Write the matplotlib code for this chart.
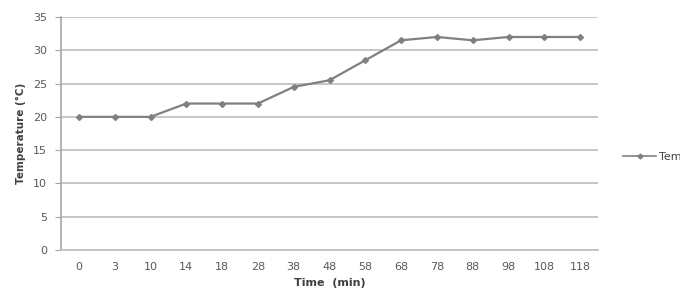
import matplotlib
matplotlib.use("Agg")
import matplotlib.pyplot as plt
from matplotlib.lines import Line2D

# 資料
times = ["0", "3", "10", "14", "18", "28", "38", "48", "58", "68", "78", "88", "98", "108", "118"]
temps = [20, 20, 20, 22, 22, 22, 24.5, 25.5, 28.5, 31.5, 32, 31.5, 32, 32, 32]
series_name = "Temperature"

fig = plt.figure(figsize=(6.8, 2.96), dpi=100)
ax = fig.add_axes([61 / 680, 1 - 250 / 296, 537 / 680, 233 / 296])

x = range(len(times))
ax.plot(x, temps, color="#808080", linewidth=1.6, marker="D", markersize=3,
        markerfacecolor="#808080", markeredgecolor="#808080", zorder=3)

ax.set_xlim(-0.5, len(times) - 0.5)
ax.set_ylim(0, 35)
ax.set_yticks(range(0, 36, 5))
ax.set_xticks(list(x))
ax.set_xticklabels(times)

ax.grid(True, axis="y", color="#bdbdbd", linewidth=1.2)
ax.set_axisbelow(True)
for side in ("top", "right"):
    ax.spines[side].set_visible(False)
ax.spines["bottom"].set_color("#bdbdbd")
ax.spines["bottom"].set_linewidth(1.2)
ax.spines["left"].set_color("#a6a6a6")
ax.spines["left"].set_linewidth(1.2)
ax.tick_params(axis="y", length=4, color="#a6a6a6", labelsize=8,
               labelcolor="#595959", pad=6)
ax.tick_params(axis="x", length=0, labelsize=8, labelcolor="#595959", pad=9)

ax.set_xlabel("Time  (min)", fontsize=8, fontweight="bold", color="#404040", labelpad=4)
ax.set_ylabel("Temperature (°C)", fontsize=7.5, fontweight="bold", color="#404040", labelpad=5)

# 圖例（原圖在右緣被裁切，只露出開頭）
handle = Line2D([], [], color="#808080", linewidth=1.2, marker="D", markersize=2.5)
fig.legend([handle], [series_name], loc="center left", bbox_to_anchor=(619 / 680, 1 - 157 / 296),
           frameon=False, fontsize=8, labelcolor="#404040", handlelength=2.9,
           handletextpad=0.3, borderaxespad=0)

fig.savefig("out.png", dpi=100)
